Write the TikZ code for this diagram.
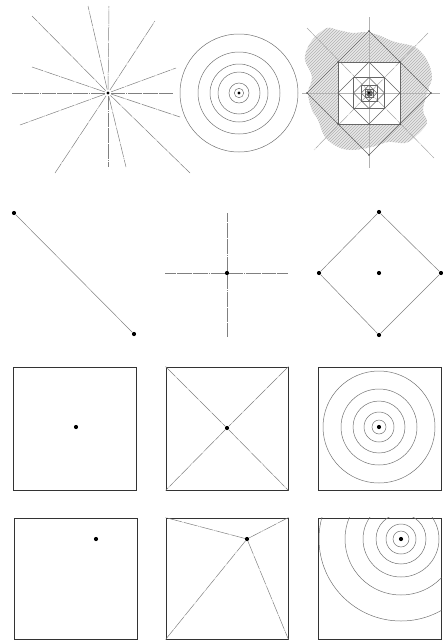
\documentclass[tikz,border=0pt]{standalone}
\usepackage{xcolor}
\usetikzlibrary{calc, patterns}

\tikzset{
  dotmark/.style={circle, fill=black, inner sep=0pt, minimum size=4.2pt},
  tinydot/.style={circle, fill=black!70, inner sep=0pt, minimum size=1.6pt},
  guide/.style={draw=black!50, line width=0.5pt},
  guidedash/.style={guide, dash pattern=on 14pt off 0.8pt on 0.7pt off 0.8pt},
  ring/.style={draw=black!55, line width=0.5pt},
  framebox/.style={draw=black!80, line width=0.9pt, inner sep=0pt},
}

\begin{document}
\begin{tikzpicture}[x=1pt, y=-1pt]
  \useasboundingbox (0,0) rectangle (443,640);

  % row 1: rays
  \node[dotmark, minimum size=3.4pt] (starCenter) at (108,93) {};
  \foreach \px/\py in {88/6, 109/6, 32/16, 155/21, 32/67, 176/68, 12/93, 173/93, 20/125, 180/117, 55/173, 190/173, 108/167, 126/167}
    \draw[guidedash, shorten <=1.5pt] (starCenter) -- (\px,\py);

  % row 1: rings
  \node[dotmark, minimum size=3.4pt] (ringCenter) at (239,93) {};
  \foreach \r in {4.7, 10, 21, 29, 41, 59}
    \draw[ring] (ringCenter) circle[radius=\r pt];

  % row 1: nested squares on a hatched ground
  \coordinate (nestCenter) at (369,93);
  \fill[black!9, even odd rule, postaction={pattern=north east lines, pattern color=black!30}]
    plot[smooth cycle, tension=0.6] coordinates {(308,47) (315,37) (327,28) (338,30) (353,33) (365,32) (378,35) (395,42) (415,47) (427,60) (432,77) (428,90) (423,110) (427,123) (415,137) (405,143) (388,142) (372,147) (352,150) (338,147) (325,137) (318,120) (312,110) (308,93) (312,77) (305,60)}
    (338,62) rectangle (400,124);
  \draw[guide, black!30] (369,17) -- (369,168);
  \draw[guide, black!30] (302,93) -- (440,93);
  \draw[guidedash, black!35] (307,28) -- (434,158);
  \draw[guidedash, black!35] (428,33) -- (314,150);
  \foreach \h in {62, 31, 15.5, 7.75, 3.9, 1.95} {
    \draw[guide, black!60] ($(nestCenter)+(0,-\h)$) -- ($(nestCenter)+(\h,0)$) -- ($(nestCenter)+(0,\h)$) -- ($(nestCenter)+(-\h,0)$) -- cycle;
    \draw[guide, black!60] ($(nestCenter)+(-\h/2,-\h/2)$) rectangle ($(nestCenter)+(\h/2,\h/2)$);
  }
  \foreach \px/\py in {369/31, 431/93, 369/155, 307/93, 338/62, 400/62, 400/124, 338/124}
    \node[tinydot] at (\px,\py) {};
  \node[dotmark, minimum size=2.6pt] (nestDot) at (nestCenter) {};

  % row 2: segment
  \node[dotmark] (segStart) at (14,213) {};
  \node[dotmark] (segEnd) at (134,334) {};
  \draw[guide] (segStart) -- (segEnd);

  % row 2: cross
  \node[dotmark] (crossCenter) at (227,273) {};
  \coordinate (crossWest) at (165,273);
  \coordinate (crossEast) at (288,273);
  \coordinate (crossNorth) at (227,213);
  \coordinate (crossSouth) at (227,337);
  \draw[guidedash] (crossCenter) -- (crossWest);
  \draw[guidedash] (crossCenter) -- (crossEast);
  \draw[guidedash] (crossCenter) -- (crossNorth);
  \draw[guidedash] (crossCenter) -- (crossSouth);

  % row 2: diamond
  \node[dotmark] (diaCenter) at (379,273) {};
  \node[dotmark] (diaTop) at (379,212) {};
  \node[dotmark] (diaRight) at (441,273) {};
  \node[dotmark] (diaBottom) at (379,335) {};
  \node[dotmark] (diaLeft) at (319,273) {};
  \draw[guide] (diaTop) -- (diaRight) -- (diaBottom) -- (diaLeft) -- (diaTop);

  % row 3
  \node[framebox, minimum width=123pt, minimum height=123pt] (boxA) at (74.5,428.5) {};
  \node[framebox, minimum width=122pt, minimum height=123pt] (boxB) at (227,428.5) {};
  \node[framebox, minimum width=123pt, minimum height=123pt] (boxC) at (379.5,428.5) {};
  \node[dotmark] (boxADot) at (76,427) {};
  \node[dotmark] (boxBDot) at (227,428) {};
  \draw[guidedash] (boxB.north west) -- (boxBDot) -- (boxB.south east);
  \draw[guidedash] (boxB.north east) -- (boxBDot) -- (boxB.south west);
  \node[dotmark] (boxCDot) at (379,427) {};
  \foreach \r in {7, 15, 26, 38, 56}
    \draw[ring] (boxCDot) circle[radius=\r pt];

  % row 4
  \node[framebox, minimum width=123pt, minimum height=121pt] (boxD) at (75.5,578.5) {};
  \node[framebox, minimum width=122pt, minimum height=121pt] (boxE) at (227,578.5) {};
  \node[framebox, minimum width=123pt, minimum height=121pt] (boxF) at (379.5,578.5) {};
  \node[dotmark] (boxDDot) at (96,539) {};
  \node[dotmark] (boxEDot) at (247,539) {};
  \draw[guidedash] (boxEDot) -- (boxE.north west);
  \draw[guidedash] (boxEDot) -- (boxE.north east);
  \draw[guidedash] (boxEDot) -- (boxE.south west);
  \draw[guidedash] (boxEDot) -- (boxE.south east);
  \node[dotmark] (boxFDot) at (401,539) {};
  \begin{scope}
    \clip (boxF.south west) rectangle (boxF.north east);
    \foreach \r in {8, 15, 25, 38, 56, 82}
      \draw[ring] (boxFDot) circle[radius=\r pt];
  \end{scope}
\end{tikzpicture}
\end{document}
